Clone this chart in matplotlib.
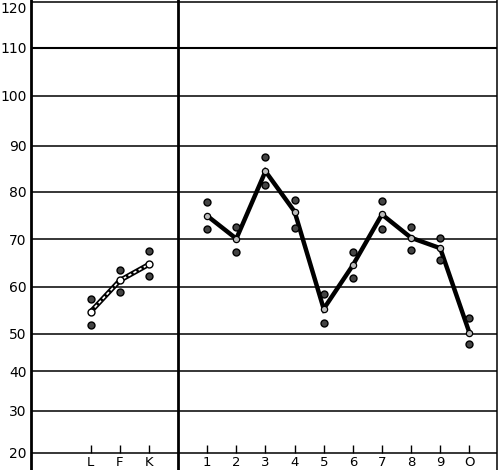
import numpy as np
import matplotlib
matplotlib.use("Agg")
import matplotlib.pyplot as plt
from matplotlib.scale import FuncScale

# ---- data ----
left_labels = ["L", "F", "K"]
left_mean = [54.7, 61.3, 64.7]
left_upper = [57.4, 63.6, 67.5]
left_lower = [51.8, 58.8, 62.3]

right_labels = ["1", "2", "3", "4", "5", "6", "7", "8", "9", "O"]
right_mean = [74.9, 70.1, 84.4, 75.8, 55.3, 64.5, 75.2, 70.3, 68.1, 50.3]
right_upper = [77.8, 72.6, 87.5, 78.3, 58.5, 67.3, 78.1, 72.6, 70.3, 53.4]
right_lower = [72.1, 67.3, 81.5, 72.3, 52.3, 61.8, 72.1, 67.8, 65.6, 47.4]

y_ticks = [20, 30, 40, 50, 60, 70, 80, 90, 100, 110, 120]

# ---- uneven printed scale (height of each grid line above the 20 line, px) ----
scale_vals = np.array([0, 20, 30, 40, 50, 60, 70, 80, 90, 100, 110, 120, 140])
scale_h = np.array([-83.4, 0, 41.7, 81.4, 118.7, 166.0, 213.4, 261.0, 307.0,
                    357.0, 404.7, 450.2, 542.2])

def fwd(v):
    return np.interp(v, scale_vals, scale_h)

def inv(h):
    return np.interp(h, scale_h, scale_vals)

fig = plt.figure(figsize=(5.0, 4.7), dpi=100)
ax = fig.add_axes([31 / 500, 0.0, 466 / 500, 1.0])
ax.set_yscale(FuncScale(ax, (fwd, inv)))
ax.set_ylim(15.85, 120.5)
ax.set_xlim(-0.05, 15.95)

x_left = np.arange(len(left_labels)) + 2
x_right = np.arange(len(right_labels)) + 6
divider = 5

# grid lines
for v in y_ticks:
    lw = 1.5 if v == 110 else 1.1
    ax.axhline(v, color="black", lw=lw, zorder=1)

# frame
for s in ["top", "bottom"]:
    ax.spines[s].set_visible(False)
ax.spines["left"].set_linewidth(2.0)
ax.spines["right"].set_linewidth(1.1)
ax.axvline(divider, color="black", lw=2.0, zorder=1)

# y tick labels
ax.set_yticks(y_ticks)
ax.set_yticklabels([str(v) for v in y_ticks])
ax.tick_params(axis="y", length=0, pad=3, labelsize=10)
ax.set_xticks([])
for lab in ax.get_yticklabels():
    if lab.get_text() == "120":
        lab.set_verticalalignment("top")

# small tick marks and category labels
all_x = list(x_left) + list(x_right)
all_lab = left_labels + right_labels
ax.vlines(all_x, 20, 21.9, color="black", lw=1.0, zorder=2)
for x, t in zip(all_x, all_lab):
    ax.text(x, 17.75, t, ha="center", va="center", fontsize=9.5, color="black")

# left profile (hollow line)
ax.plot(x_left, left_mean, color="black", lw=3.6, zorder=3, solid_capstyle="round")
ax.plot(x_left, left_mean, color="white", lw=1.2, ls=(0, (2, 1.5)), zorder=4)
ax.plot(x_left, left_mean, ls="none", marker="o", ms=5, mfc="white", mec="black",
        mew=1.0, zorder=5)

# right profile
ax.plot(x_right, right_mean, color="black", lw=3.2, zorder=3, solid_joinstyle="miter")
ax.plot(x_right, right_mean, ls="none", marker="o", ms=4.5, mfc="#bbbbbb", mec="black",
        mew=0.9, zorder=5)

# individual points
for xs, up, lo in [(x_left, left_upper, left_lower), (x_right, right_upper, right_lower)]:
    ax.plot(xs, up, ls="none", marker="o", ms=5, mfc="#444444", mec="black", mew=1.0, zorder=5)
    ax.plot(xs, lo, ls="none", marker="o", ms=5, mfc="#444444", mec="black", mew=1.0, zorder=5)

fig.savefig("out.png", dpi=100)
